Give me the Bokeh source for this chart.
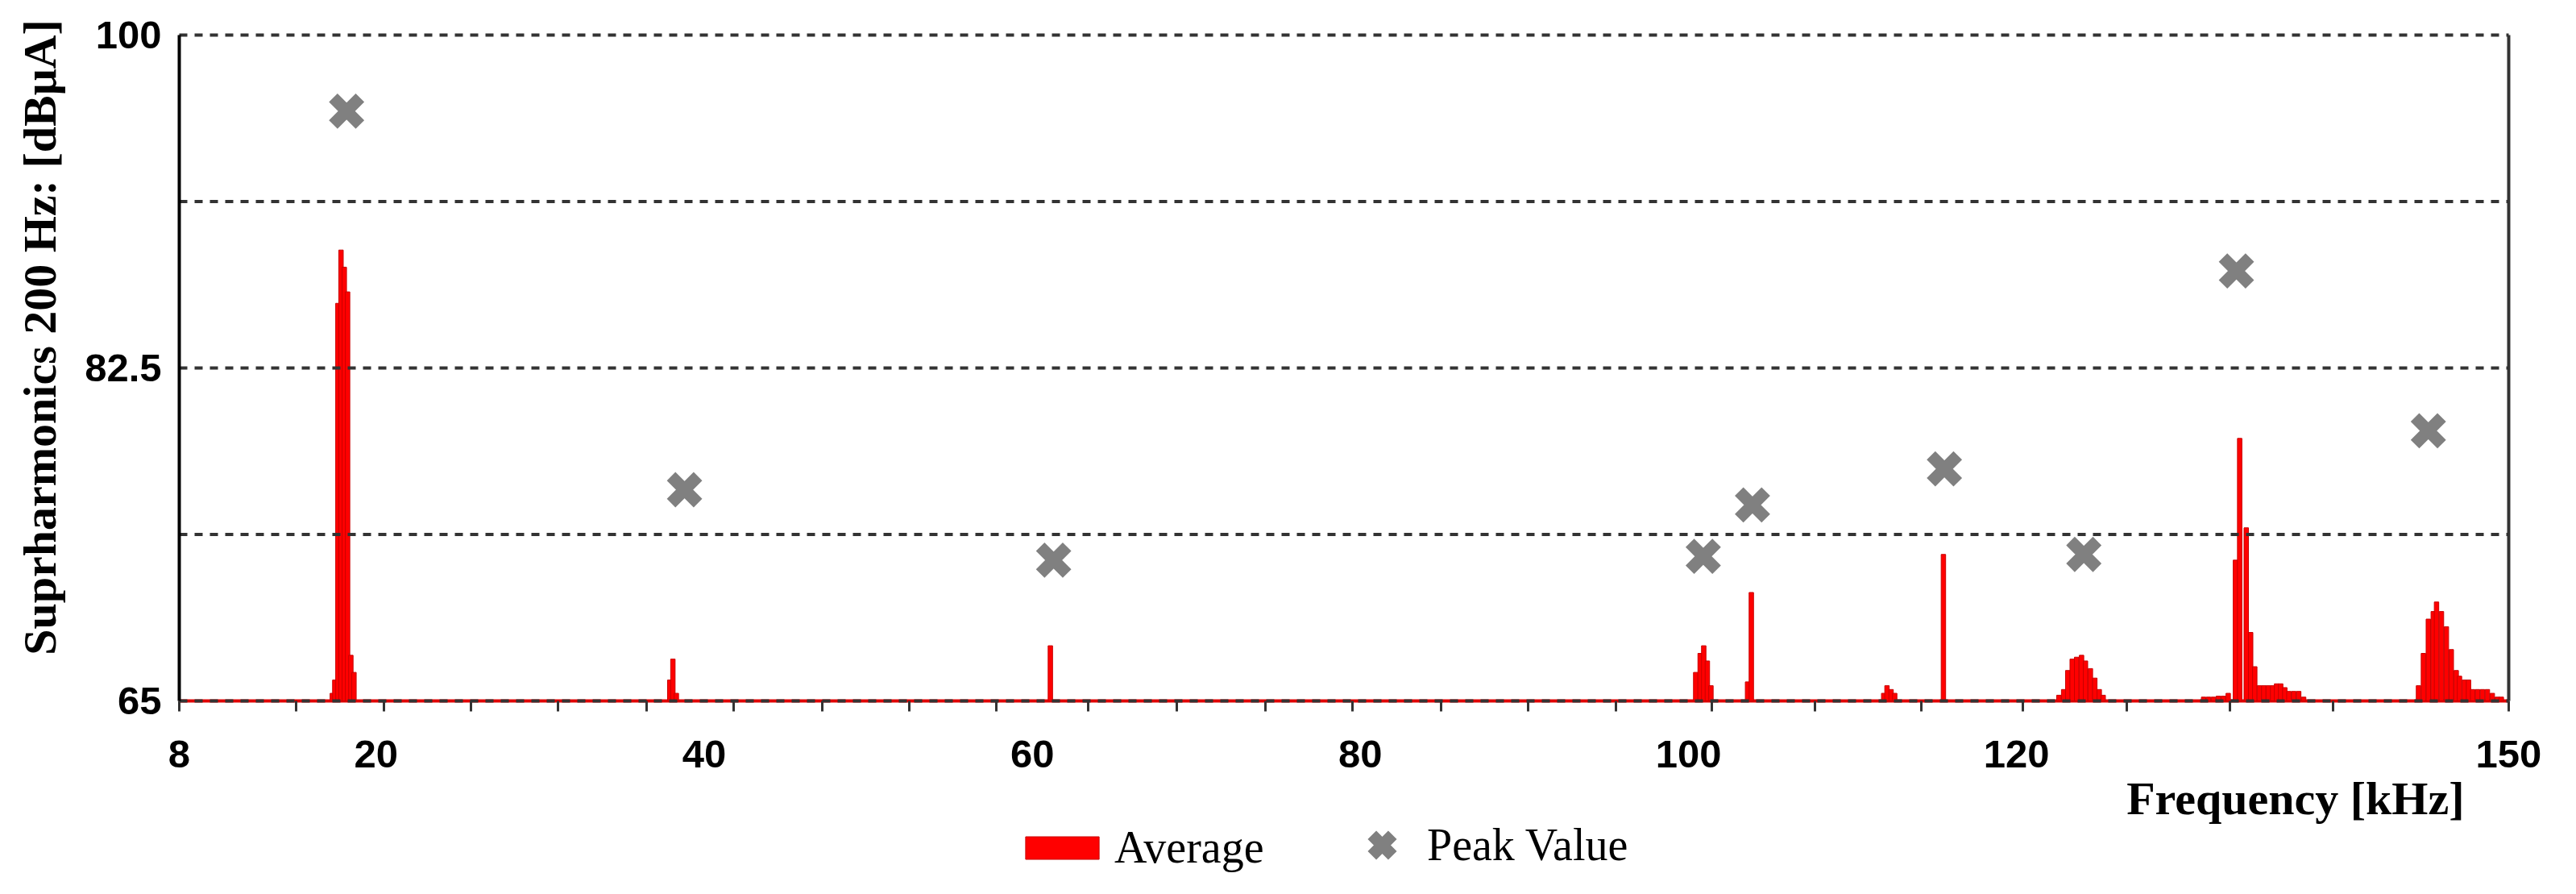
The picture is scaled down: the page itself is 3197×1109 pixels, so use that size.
import math
from bokeh.plotting import figure
from bokeh.models import (Range1d, FixedTicker, LinearAxis, Legend,
                          LegendItem, ColumnDataSource, Label)
from bokeh.embed import file_html
from bokeh.resources import INLINE

# ---------------- data ----------------
# Average level per frequency bin (kHz, dBuA); bins not listed sit on the 65 dB floor
avg_freq = [
    17.33, 17.48, 17.67, 17.86, 18.06, 18.26, 18.46, 18.65,
    37.90, 38.09, 38.30,
    61.10,
    100.44, 100.71, 100.93, 101.15, 101.37,
    103.60, 103.83,
    111.90, 112.10, 112.35, 112.57,
    115.54,
    122.58, 122.87, 123.12, 123.39, 123.66, 123.96, 124.20, 124.50, 124.77, 125.04, 125.28,
    131.40, 131.70, 132.00, 132.30, 132.60, 132.90, 133.34, 133.60, 134.00, 134.27, 134.52,
    134.80, 135.07, 135.34, 135.61, 135.85, 136.10, 136.35, 136.60, 136.90, 137.20, 137.50,
    144.50, 144.80, 145.10, 145.40, 145.60, 145.90, 146.20, 146.50, 146.80, 147.00,
    147.30, 147.55, 147.80, 148.10, 148.40, 148.70, 149.00, 149.30, 149.55,
]
avg_level = [
    65.4, 66.1, 85.9, 88.7, 87.8, 86.5, 67.4, 66.5,
    66.1, 67.2, 65.4,
    67.9,
    66.5, 67.5, 67.9, 67.1, 65.8,
    66.0, 70.7,
    65.4, 65.8, 65.6, 65.4,
    72.7,
    65.3, 65.6, 66.6, 67.2, 67.3, 67.4, 67.1, 66.7, 66.2, 65.6, 65.3,
    65.2, 65.2, 65.2, 65.25, 65.25, 65.4, 72.4, 78.8, 74.1, 68.6, 66.8,
    65.8, 65.8, 65.8, 65.8, 65.9, 65.9, 65.7, 65.5, 65.5, 65.5, 65.2,
    65.8, 67.5, 69.3, 69.7, 70.2, 69.7, 68.9, 67.7, 66.6, 66.3,
    66.1, 66.1, 65.6, 65.6, 65.6, 65.6, 65.4, 65.2, 65.2,
]

# Peak values
peak_freq = [18.2, 38.8, 61.3, 100.9, 103.9, 115.6, 124.1, 133.4, 145.1]
peak_val = [96.0, 76.1, 72.4, 72.6, 75.3, 77.2, 72.7, 87.6, 79.2]

# Axes
x_labels = [8, 20, 40, 60, 80, 100, 120, 150]
x_tick_marks = [8, 15.1, 20.5, 25.8, 31.1, 36.5, 41.8, 47.2, 52.5, 57.8, 63.4, 68.8,
                74.2, 79.5, 84.9, 90.2, 95.6, 101.4, 107.7, 114.2, 120.4, 126.7,
                133.0, 139.3, 150]
y_labels = [65, 82.5, 100]
y_grid = [65, 73.75, 82.5, 91.25, 100]
x_min, x_max = 8, 150
y_min, y_max = 65, 100

# ---------------- layout (whole canvas is the frame; axes pinned to data) ----------------
W, H = 3180, 1093
LEFT, RIGHT, TOP = 222, 67, 43       # room around the 8..150 x 65..100 area
PLOT_W, PLOT_H = W - LEFT - RIGHT, 826
BOTTOM = H - TOP - PLOT_H
kx = (x_max - x_min) / PLOT_W
ky = (y_max - y_min) / PLOT_H

p = figure(width=W, height=H,
           x_range=Range1d(x_min - LEFT * kx, x_max + RIGHT * kx),
           y_range=Range1d(y_min - BOTTOM * ky, y_max + TOP * ky),
           output_backend="svg", toolbar_location=None,
           min_border_left=0, min_border_right=0, min_border_top=0, min_border_bottom=0)
p.outline_line_color = None
p.background_fill_color = "white"
p.border_fill_color = "white"
p.xgrid.visible = False
p.ygrid.visible = False

# red floor (average level at the noise floor)
p.segment(x0=x_min, x1=x_max, y0=y_min, y1=y_min, line_color="#e00000", line_width=4)

src = ColumnDataSource(dict(freq=avg_freq, level=avg_level))
bars = p.vbar(x="freq", top="level", bottom=y_min, width=0.27, source=src,
              fill_color="#ff0000", line_color="#c80000", line_width=1)

# dashed horizontal grid lines between the two vertical borders
p.segment(x0=x_min, x1=x_max, y0=y_grid, y1=y_grid, line_color="#333333",
          line_width=4, line_dash="10 9")

pk = p.scatter(x=peak_freq, y=peak_val, marker="x", size=47,
               line_color="#808080", line_width=15)

# x axis, fixed at the 65 dB line
xa = p.xaxis[0]
xa.fixed_location = y_min
xa.bounds = (x_min, x_max)
xa.ticker = FixedTicker(ticks=x_labels, minor_ticks=x_tick_marks)
xa.axis_line_color = None
xa.major_tick_out = 0
xa.major_tick_in = 0
xa.minor_tick_out = 13
xa.minor_tick_in = 0
xa.minor_tick_line_width = 3
xa.minor_tick_line_color = "#333333"
xa.major_label_text_font = "Liberation Sans"
xa.major_label_text_font_style = "bold"
xa.major_label_text_font_size = "49px"
xa.major_label_text_color = "black"
xa.major_label_standoff = 36

# y axis, fixed at 8 kHz
ya = p.yaxis[0]
ya.fixed_location = x_min
ya.bounds = (y_min, y_max)
ya.ticker = FixedTicker(ticks=y_labels)
ya.major_label_overrides = {65: "65", 82.5: "82.5", 100: "100"}
ya.axis_line_color = "black"
ya.axis_line_width = 4
ya.major_tick_out = 0
ya.major_tick_in = 0
ya.minor_tick_out = 0
ya.minor_tick_in = 0
ya.major_label_text_font = "Liberation Sans"
ya.major_label_text_font_style = "bold"
ya.major_label_text_font_size = "49px"
ya.major_label_text_color = "black"
ya.major_label_standoff = 22

# y axis title (rotated, screen units from the frame's bottom-left)
p.add_layout(Label(x=49, y=675, x_units="screen", y_units="screen", angle=math.pi / 2,
                   text="Suprharmonics 200 Hz: [dBμA]", text_align="center",
                   text_baseline="middle", text_font="Liberation Serif",
                   text_font_style="bold", text_font_size="58px", text_color="black"))

# right border line at 150 kHz
ra = LinearAxis(ticker=FixedTicker(ticks=[]), bounds=(y_min, y_max), fixed_location=x_max,
                axis_line_color="#333333", axis_line_width=4,
                major_tick_out=0, major_tick_in=0, minor_tick_out=0, minor_tick_in=0,
                major_label_text_font_size="0px")
p.add_layout(ra, "right")

# x axis title
p.add_layout(Label(x=3058, y=103, x_units="screen", y_units="screen",
                   text="Frequency [kHz]", text_align="right", text_baseline="middle",
                   text_font="Liberation Serif", text_font_style="bold",
                   text_font_size="58px", text_color="black"))

# legends
legA = Legend(items=[LegendItem(label="Average", renderers=[bars])],
              location=(1261, 10), glyph_width=114, glyph_height=35,
              label_standoff=8, padding=0, margin=0,
              border_line_color=None, background_fill_alpha=0,
              label_text_font="Liberation Serif", label_text_font_size="56px",
              label_text_color="black")
legB = Legend(items=[LegendItem(label="Peak Value", renderers=[pk])],
              location=(1670, 0), glyph_width=90, glyph_height=90,
              label_standoff=11, padding=0, margin=0,
              border_line_color=None, background_fill_alpha=0,
              label_text_font="Liberation Serif", label_text_font_size="56px",
              label_text_color="black")
p.add_layout(legA)
p.add_layout(legB)

open("out.html", "w").write(file_html(p, INLINE))
